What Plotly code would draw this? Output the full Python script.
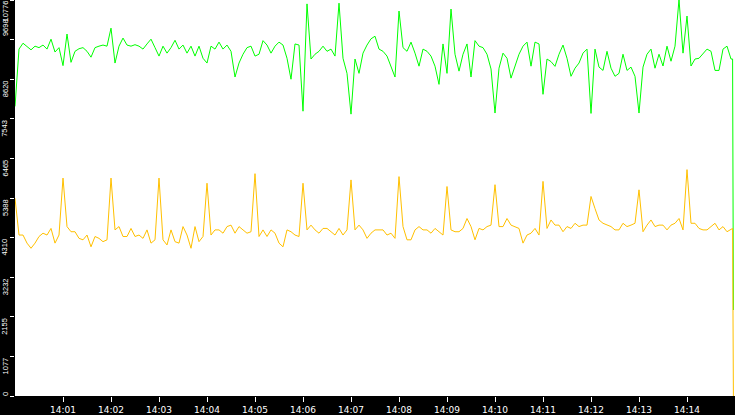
import plotly.graph_objects as go
from datetime import datetime, timedelta

# ---------------- data ----------------
DAY = "2024-01-01"
start_time = "14:00:00"
step_seconds = 5

green_values = [
    7880, 9440, 9600, 9520, 9420, 9520, 9480, 9550, 9440, 9710,
    9360, 9480, 8990, 9850, 9080, 9380, 9450, 9480, 9380, 9220,
    9480, 9520, 9550, 9520, 10010, 9060, 9520, 9740, 9550, 9520,
    9560, 9520, 9440, 9580, 9710, 9480, 9250, 9520, 9330, 9480,
    9680, 9440, 9550, 9330, 9520, 9250, 9520, 9190, 9060, 9520,
    9440, 9630, 9440, 9550, 9380, 8680, 9060, 9300, 9480, 9520,
    9250, 9300, 9670, 9550, 9330, 9520, 9630, 9550, 9190, 8620,
    9580, 9550, 7750, 10670, 9170, 9300, 9380, 9520, 9380, 9440,
    9250, 10690, 9190, 8780, 7670, 9170, 8780, 9330, 9550, 9720,
    9790, 9440, 9380, 9250, 8975, 8680, 10475, 9480, 9380, 9630,
    9330, 8975, 9440, 9380, 9250, 8975, 8480, 9580, 8780, 10530,
    9300, 8840, 9300, 9580, 8680, 9670, 9520, 9480, 9300, 8900,
    7700, 8920, 9330, 9190, 8650, 8950, 9300, 9520, 9630, 8975,
    9630, 9580, 8210, 9170, 9100, 8970, 9300, 9550, 9190, 8700,
    8920, 9060, 9330, 9440, 7690, 9440, 8950, 8860, 9380, 8920,
    8700, 8780, 9300, 8860, 8950, 8700, 7700, 8950, 9300, 9440,
    8920, 9300, 8980, 9520, 9110, 9520, 10790, 9330, 10340, 8980,
    9170, 9190, 9330, 9440, 9380, 8860, 8860, 9440, 9520, 9170,
]

orange_values = [
    5380, 4380, 4380, 4160, 4020, 4160, 4340, 4430, 4380, 4560,
    4160, 4380, 5930, 4610, 4470, 4470, 4290, 4250, 4380, 4060,
    4340, 4290, 4200, 4250, 5930, 4520, 4610, 4340, 4340, 4560,
    4340, 4380, 4290, 4520, 4160, 4250, 5930, 4250, 4110, 4520,
    4200, 4160, 4610, 4380, 4020, 4610, 4200, 4340, 5790, 4380,
    4520, 4520, 4430, 4610, 4650, 4430, 4610, 4520, 4430, 4470,
    6050, 4340, 4520, 4340, 4520, 4430, 4160, 4060, 4520, 4470,
    4380, 4340, 5790, 4520, 4650, 4520, 4430, 4560, 4560, 4470,
    4380, 4560, 4380, 4520, 5880, 4520, 4650, 4520, 4290, 4430,
    4520, 4520, 4520, 4380, 4430, 4290, 5970, 4610, 4250, 4250,
    4520, 4610, 4520, 4520, 4430, 4560, 4470, 4380, 5700, 4520,
    4470, 4470, 4560, 4830, 4610, 4250, 4560, 4520, 4610, 4650,
    5750, 4610, 4610, 4830, 4650, 4610, 4560, 4160, 4380, 4430,
    4560, 4380, 5840, 4560, 4790, 4650, 4650, 4470, 4610, 4560,
    4700, 4610, 4650, 4650, 5430, 5100, 4790, 4700, 4650, 4610,
    4520, 4520, 4700, 4610, 4650, 4700, 5610, 4470, 4650, 4790,
    4610, 4650, 4650, 4520, 4650, 4700, 4830, 4520, 6160, 4700,
    4700, 4560, 4520, 4520, 4610, 4700, 4520, 4610, 4470, 4520,
]

end_times = ["14:14:57", "14:14:58"]
green_end = [9170, 2340]
orange_end = [4560, 0]

x_tick_labels = ["14:01", "14:02", "14:03", "14:04", "14:05", "14:06", "14:07",
                 "14:08", "14:09", "14:10", "14:11", "14:12", "14:13", "14:14"]
x_range_times = ["14:00:00", "14:15:00"]

y_tick_values = [0, 1077.6, 2155.2, 3232.8, 4310.4, 5388, 6465.6, 7543.2,
                 8620.8, 9698.4, 10776]
y_tick_labels = ["0", "1077", "2155", "3232", "4310", "5388", "6465", "7543",
                 "8620", "9698", "10776"]
y_range = [0, 10776]

# ---------------- build ----------------
t0 = datetime.fromisoformat(f"{DAY} {start_time}")
n_main = min(len(green_values), len(orange_values))
times = [t0 + timedelta(seconds=step_seconds * i) for i in range(n_main)]
times += [datetime.fromisoformat(f"{DAY} {t}") for t in end_times]
green_all = green_values[:n_main] + green_end
orange_all = orange_values[:n_main] + orange_end

fig = go.Figure()
fig.add_trace(go.Scatter(x=times, y=green_all, mode="lines",
                         line=dict(color="#00ff00", width=1), hoverinfo="skip"))
fig.add_trace(go.Scatter(x=times, y=orange_all, mode="lines",
                         line=dict(color="#ffc000", width=1), hoverinfo="skip"))

label_font = dict(family="Liberation Sans", size=7.5, color="white")
annotations = []
n = len(y_tick_values)
for k, (v, lab) in enumerate(zip(y_tick_values, y_tick_labels)):
    if k == n - 1:          # top label hangs down from the top tick
        yanchor, shift = "top", 0
    elif k == n - 2:        # second label sits above its tick
        yanchor, shift = "bottom", 2
    elif k == 0:
        yanchor, shift = "middle", 2
    else:
        yanchor, shift = "middle", -10
    annotations.append(dict(
        xref="paper", yref="y", x=0, y=v, text=lab, showarrow=False,
        textangle=-90, xanchor="center", yanchor=yanchor,
        xshift=-10, yshift=shift, font=label_font, borderpad=0,
    ))

fig.update_layout(
    width=735, height=415,
    margin=dict(l=15, r=0, t=0, b=16, pad=0),
    paper_bgcolor="black", plot_bgcolor="white",
    showlegend=False,
    annotations=annotations,
    xaxis=dict(
        type="date",
        range=[f"{DAY} {t}" for t in x_range_times],
        tickvals=[f"{DAY} {t}:00" for t in x_tick_labels],
        ticktext=x_tick_labels,
        ticks="outside", ticklen=5, tickwidth=1, tickcolor="white",
        tickfont=dict(family="DejaVu Sans", size=9, color="white"),
        showgrid=False, zeroline=False, showline=False,
    ),
    yaxis=dict(
        range=y_range,
        tickvals=y_tick_values,
        showticklabels=False,
        ticks="outside", ticklen=4, tickwidth=1, tickcolor="white",
        showgrid=False, zeroline=False, showline=False,
    ),
)

fig.write_html(
    "out.html",
    config={"displayModeBar": False},
    post_script="document.body.style.margin='0px';document.body.style.overflow='hidden';",
)
